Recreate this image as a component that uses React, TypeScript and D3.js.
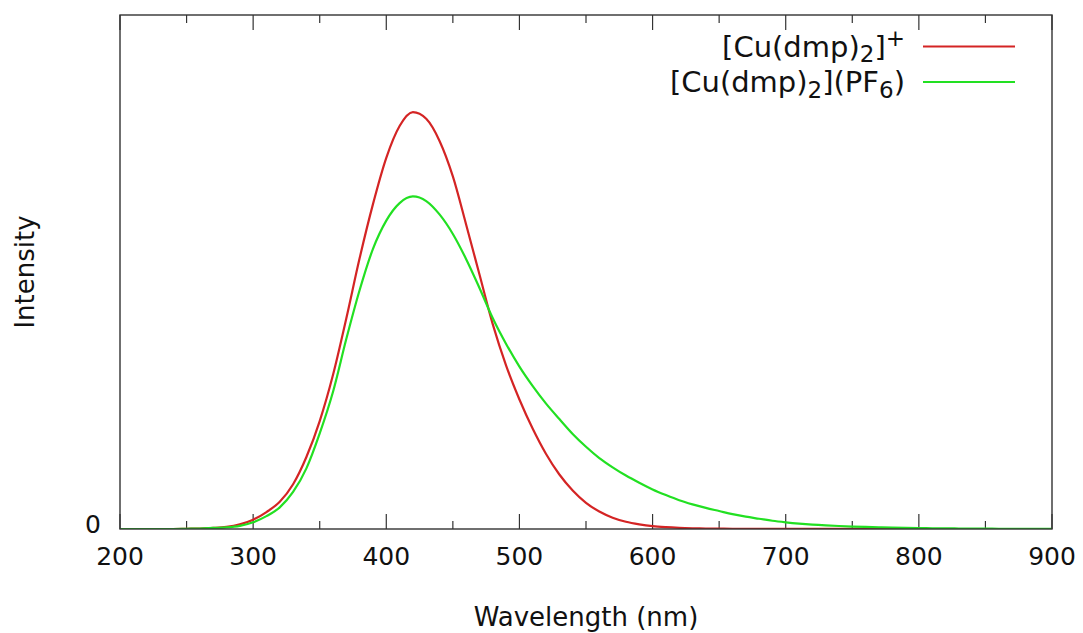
import React from "react";
import * as d3 from "d3";

const wavelengths: number[] = d3.range(200, 901, 10);

const cuDmpCation: number[] = [
  0, 0, 0, 0, 0, 0.0005, 0.001, 0.002, 0.004, 0.009,
  0.018, 0.033, 0.053, 0.087, 0.14, 0.21, 0.3, 0.41, 0.527, 0.632,
  0.722, 0.784, 0.811, 0.798, 0.755, 0.686, 0.592, 0.495, 0.398, 0.318,
  0.252, 0.195, 0.146, 0.106, 0.075, 0.051, 0.034, 0.022, 0.014, 0.009,
  0.0055, 0.0035, 0.0022, 0.0014, 0.0009, 0.0007, 0.0005, 0.0004, 0.0003, 0.0003,
  0.0002, 0.0002, 0.0002, 0.0001, 0.0001, 0.0001, 0.0001, 0.0001, 0, 0,
  0, 0, 0, 0, 0, 0, 0, 0, 0, 0, 0,
];

const cuDmpPF6: number[] = [
  0, 0, 0, 0, 0, 0.0005, 0.001, 0.002, 0.003, 0.006,
  0.013, 0.025, 0.042, 0.072, 0.118, 0.186, 0.267, 0.37, 0.465, 0.545,
  0.6, 0.634, 0.647, 0.638, 0.612, 0.574, 0.525, 0.469, 0.41, 0.36,
  0.316, 0.278, 0.244, 0.214, 0.185, 0.16, 0.138, 0.12, 0.104, 0.09,
  0.077, 0.066, 0.056, 0.048, 0.041, 0.035, 0.029, 0.024, 0.02, 0.016,
  0.013, 0.0105, 0.0085, 0.007, 0.0058, 0.0048, 0.004, 0.0033, 0.0027, 0.0022,
  0.0018, 0.0015, 0.0012, 0.001, 0.0008, 0.0007, 0.0005, 0.0004, 0.0003, 0.0002, 0.0001,
];

const xMajorTicks: number[] = [200, 300, 400, 500, 600, 700, 800, 900];
const xMinorTicks: number[] = [250, 350, 450, 550, 650, 750, 850];
const yTickLabels: string[] = ["0"];

const RED = "#d42424";
const GREEN = "#22e022";
const AXIS = "#333";
const FONT = "'DejaVu Sans', sans-serif";

export default function App() {
  const W = 1083;
  const H = 633;
  const left = 120;
  const right = 1052;
  const top = 15;
  const bottom = 529;

  const x = d3.scaleLinear().domain([200, 900]).range([left, right]);
  const y = d3.scaleLinear().domain([0, 1]).range([bottom, top]);

  const line = d3
    .line<number>()
    .x((_, i) => x(wavelengths[i]))
    .y((d) => y(d))
    .curve(d3.curveMonotoneX);

  const series = [
    { key: "cation", values: cuDmpCation, color: RED },
    { key: "pf6", values: cuDmpPF6, color: GREEN },
  ];

  return (
    <svg
      width={W}
      height={H}
      style={{ position: "fixed", left: 0, top: 0, background: "#fff" }}
      fontFamily={FONT}
    >
      <rect x={0} y={0} width={W} height={H} fill="#fff" />
      <defs>
        <clipPath id="plotclip">
          <rect x={left} y={top} width={right - left} height={bottom - top} />
        </clipPath>
      </defs>

      {/* ticks */}
      {xMajorTicks.map((t) => (
        <g key={"M" + t}>
          <line x1={x(t)} x2={x(t)} y1={bottom} y2={bottom - 15} stroke={AXIS} strokeWidth={1.2} />
          <line x1={x(t)} x2={x(t)} y1={top} y2={top + 15} stroke={AXIS} strokeWidth={1.2} />
          <text x={x(t)} y={565} fontSize={25} textAnchor="middle" fill="#111">
            {t}
          </text>
        </g>
      ))}
      {xMinorTicks.map((t) => (
        <g key={"m" + t}>
          <line x1={x(t)} x2={x(t)} y1={bottom} y2={bottom - 8} stroke={AXIS} strokeWidth={1.2} />
          <line x1={x(t)} x2={x(t)} y1={top} y2={top + 8} stroke={AXIS} strokeWidth={1.2} />
        </g>
      ))}
      {yTickLabels.map((lab) => (
        <text key={lab} x={101} y={y(0) + 4} fontSize={25} textAnchor="end" fill="#111">
          {lab}
        </text>
      ))}

      {/* curves */}
      <g clipPath="url(#plotclip)">
        {series.map((s) => (
          <path key={s.key} d={line(s.values) || ""} fill="none" stroke={s.color} strokeWidth={2.2} strokeLinejoin="round" />
        ))}
      </g>

      {/* frame */}
      <rect x={left} y={top} width={right - left} height={bottom - top} fill="none" stroke={AXIS} strokeWidth={1.4} />

      {/* legend */}
      <text x={905} y={57} fontSize={29} textAnchor="end" fill="#111">
        [Cu(dmp)
        <tspan fontSize={23} dy={5}>2</tspan>
        <tspan dy={-5}>]</tspan>
        <tspan fontSize={23} dy={-11}>+</tspan>
      </text>
      <line x1={923} x2={1015} y1={46.5} y2={46.5} stroke={RED} strokeWidth={2.2} />
      <text x={905} y={92} fontSize={29} textAnchor="end" fill="#111">
        [Cu(dmp)
        <tspan fontSize={23} dy={6}>2</tspan>
        <tspan dy={-6}>](PF</tspan>
        <tspan fontSize={23} dy={6}>6</tspan>
        <tspan dy={-6}>)</tspan>
      </text>
      <line x1={923} x2={1015} y1={82} y2={82} stroke={GREEN} strokeWidth={2.2} />

      {/* axis labels */}
      <text x={(left + right) / 2} y={626} fontSize={26} textAnchor="middle" fill="#111">
        Wavelength (nm)
      </text>
      <text
        transform={`translate(34, ${(top + bottom) / 2}) rotate(-90)`}
        fontSize={26}
        textAnchor="middle"
        fill="#111"
      >
        Intensity
      </text>
    </svg>
  );
}
